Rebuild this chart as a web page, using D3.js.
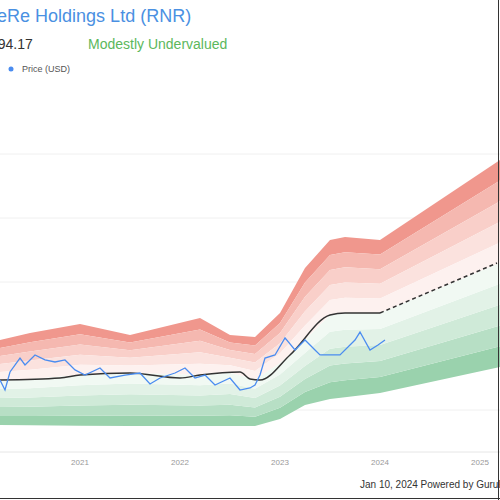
<!DOCTYPE html>
<html>
<head>
<style>
body { margin: 0; }
text { font-family: "Liberation Sans", Arial, sans-serif; }
</style>
</head>
<body>
<svg width="500" height="500"></svg>
<script src="https://d3js.org/d3.v7.min.js"></script>
<script>

// fair value (solid until last point, then dashed projection)
let fairDates = [2020.2, 2020.8, 2021.0, 2021.5, 2022.0, 2022.2, 2022.6, 2022.7, 2022.8, 2023.1, 2023.5, 2023.65, 2024.0];
let fairVals  = [123.4, 125, 127.3, 128.9, 125, 127.3, 129.7, 124.2, 123.4, 143, 174.2, 175.8, 175.8];
let projDates = [2024.0, 2025.17];
let projVals  = [175.8, 214.8];

let upperDates = [2020.2, 2020.5, 2021.0, 2021.5, 2022.2, 2022.5, 2022.75, 2023.0, 2023.25, 2023.5, 2023.65, 2024.0, 2025.2];
let upperVals  = [154.7, 160.2, 167.2, 158.6, 171.9, 158.6, 157, 175.8, 210.9, 232.8, 235.2, 232.8, 295.3];
let lowerVals  = [88.3, 88, 87.6, 87.5, 87.5, 87.5, 87.5, 93, 104, 108.5, 110, 113.3, 133.6];

let priceDates = [2020.2, 2020.25, 2020.3, 2020.4, 2020.45, 2020.55, 2020.65, 2020.75, 2020.85, 2020.95, 2021.05, 2021.2, 2021.3, 2021.45, 2021.6, 2021.7, 2021.8, 2021.95, 2022.05, 2022.15, 2022.25, 2022.35, 2022.5, 2022.6, 2022.7, 2022.75, 2022.8, 2022.85, 2022.95, 2023.05, 2023.15, 2023.25, 2023.35, 2023.4, 2023.6, 2023.75, 2023.8, 2023.9, 2023.98, 2024.05];
let priceVals  = [123.4, 115.6, 129.7, 140.6, 135.2, 143, 139.1, 137.5, 139.1, 131.3, 127.3, 132.8, 125, 127.3, 128.9, 120.3, 125, 128.9, 132.8, 125, 127.3, 119.5, 125, 115.6, 117.2, 119.5, 127.3, 140.6, 143, 156.3, 146.9, 154.7, 146.9, 143, 143, 154.7, 160.9, 146.9, 150.8, 154.7];

let gridVals = [100, 150, 200, 250, 300];
let yearTicks = [2021, 2022, 2023, 2024, 2025];

let x = d3.scaleLinear().domain([2020.2, 2025.2]).range([0, 500]);
let y = d3.scaleLinear().domain([100, 300]).range([410, 154]);

let svg = d3.select('svg');

svg.selectAll('.grid').data(gridVals).join('line')
    .attr('x1', 0).attr('x2', 500)
    .attr('y1', d => y(d)).attr('y2', d => y(d))
    .attr('stroke', '#f0f0f0').attr('stroke-width', 1);

// bands: interpolate between fair value and upper / lower limits
let fairAt = d3.scaleLinear().domain(fairDates.concat([2025.17])).range(fairVals.concat([214.8])).clamp(true);
let nb = 5;
let redCols = ['#fdf1ef', '#fbe2de', '#f9cfc9', '#f5b8b0', '#f0978d'];
let greenCols = ['#f1f9f3', '#e2f2e7', '#cfead8', '#b7dfc5', '#9ad2ad'];
for (let k = nb - 1; k >= 0; k--) {
    let f0 = k / nb, f1 = (k + 1) / nb;
    let pts = upperDates.map((d, i) => ({ d: d, u: upperVals[i], l: lowerVals[i], m: fairAt(d) }));
    svg.append('path').datum(pts)
        .attr('fill', redCols[k])
        .attr('d', d3.area().x(p => x(p.d))
            .y0(p => y(p.m + (p.u - p.m) * f0))
            .y1(p => y(p.m + (p.u - p.m) * f1)));
    svg.append('path').datum(pts)
        .attr('fill', greenCols[k])
        .attr('d', d3.area().x(p => x(p.d))
            .y0(p => y(p.m - (p.m - p.l) * f0))
            .y1(p => y(p.m - (p.m - p.l) * f1)));
}

svg.append('path').datum(fairDates.map((d, i) => [d, fairVals[i]]))
    .attr('d', d3.line().x(p => x(p[0])).y(p => y(p[1])).curve(d3.curveMonotoneX))
    .attr('fill', 'none').attr('stroke', '#333').attr('stroke-width', 1.5);
svg.append('path').datum(projDates.map((d, i) => [d, projVals[i]]))
    .attr('d', d3.line().x(p => x(p[0])).y(p => y(p[1]))).attr('fill', 'none')
    .attr('stroke', '#333').attr('stroke-width', 1.5).attr('stroke-dasharray', '4,3');
svg.append('path').datum(priceDates.map((d, i) => [d, priceVals[i]]))
    .attr('d', d3.line().x(p => x(p[0])).y(p => y(p[1]))).attr('fill', 'none')
    .attr('stroke', '#4a8cf0').attr('stroke-width', 1.3);

// x axis
svg.append('line').attr('x1', 0).attr('x2', 500).attr('y1', 452).attr('y2', 452).attr('stroke', '#e6e6e6');
svg.selectAll('.xt').data(yearTicks).join('text')
    .attr('x', d => x(d)).attr('y', 465)
    .attr('text-anchor', 'middle').attr('font-size', 8).attr('fill', '#999')
    .text(d => d);

// header
svg.append('text').attr('x', -97).attr('y', 22).attr('font-size', 18).attr('fill', '#4a90e2')
    .text('RenaissanceRe Holdings Ltd (RNR)');
svg.append('text').attr('x', -10).attr('y', 49).attr('font-size', 14).attr('fill', '#333').text('194.17');
svg.append('text').attr('x', 88).attr('y', 49).attr('font-size', 14).attr('fill', '#5cb85c').text('Modestly Undervalued');
svg.append('circle').attr('cx', 11).attr('cy', 69).attr('r', 2.5).attr('fill', '#4a8cf0');
svg.append('text').attr('x', 22).attr('y', 72).attr('font-size', 9).attr('fill', '#555').text('Price (USD)');
svg.append('text').attr('x', 360).attr('y', 488).attr('font-size', 10).attr('fill', '#333')
    .text('Jan 10, 2024   Powered by GuruFocus');
svg.append('line').attr('x1', 0).attr('x2', 500).attr('y1', 498.5).attr('y2', 498.5).attr('stroke', '#333');
svg.append('line').attr('x1', 498.5).attr('x2', 498.5).attr('y1', 0).attr('y2', 500).attr('stroke', '#333');
</script>
</body>
</html>
